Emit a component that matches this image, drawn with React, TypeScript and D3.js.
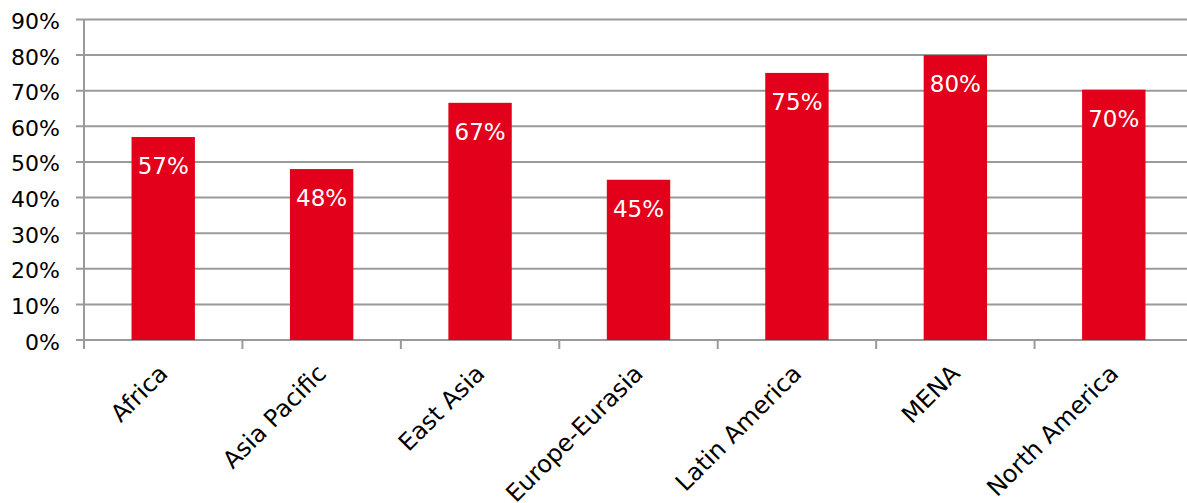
import React from "react";
import * as d3 from "d3";

const categories = ["Africa", "Asia Pacific", "East Asia", "Europe-Eurasia", "Latin America", "MENA", "North America"];
const values = [0.57, 0.48, 0.666, 0.45, 0.75, 0.8, 0.703];
const yTicks = [0, 0.1, 0.2, 0.3, 0.4, 0.5, 0.6, 0.7, 0.8, 0.9];

const W = 1187;
const H = 503;
const FONT = "'DejaVu Sans', sans-serif";

export default function App() {
  const x = d3.scaleBand<string>().domain(categories).range([84, 1193]).padding(0);
  const y = d3.scaleLinear().domain([0, 0.9]).range([340, 19.5]);
  const fmt = d3.format(".0%");
  const bw = x.bandwidth() * 0.4;
  const grid = "#9a9a9a";
  return (
    <svg width={W} height={H} style={{ position: "absolute", left: 0, top: 0, background: "#fff" }}>
      {yTicks.map((t) => (
        <g key={t}>
          <line x1={76} x2={1193} y1={y(t)} y2={y(t)} stroke={grid} strokeWidth={2} />
          <text x={60} y={y(t) + 9.5} textAnchor="end" fontFamily={FONT} fontSize={22} fill="#000">
            {fmt(t)}
          </text>
        </g>
      ))}
      <line x1={84} x2={84} y1={y(0.9)} y2={349} stroke={grid} strokeWidth={2} />
      {categories.map((c) => (
        <line key={c} x1={x(c)!} x2={x(c)!} y1={340} y2={349} stroke={grid} strokeWidth={2} />
      ))}
      {categories.map((c, i) => {
        const cx = x(c)! + x.bandwidth() / 2;
        return (
          <g key={c}>
            <rect x={cx - bw / 2} y={y(values[i])} width={bw} height={340 - y(values[i])} fill="#E2001A" />
            <text x={cx} y={y(values[i]) + 37} textAnchor="middle" fontFamily={FONT} fontSize={23} fill="#fff">
              {fmt(values[i])}
            </text>
            <text
              transform={`translate(${cx + 6},${375}) rotate(-45)`}
              textAnchor="end"
              fontFamily={FONT}
              fontSize={24}
              fill="#000"
            >
              {c}
            </text>
          </g>
        );
      })}
    </svg>
  );
}
